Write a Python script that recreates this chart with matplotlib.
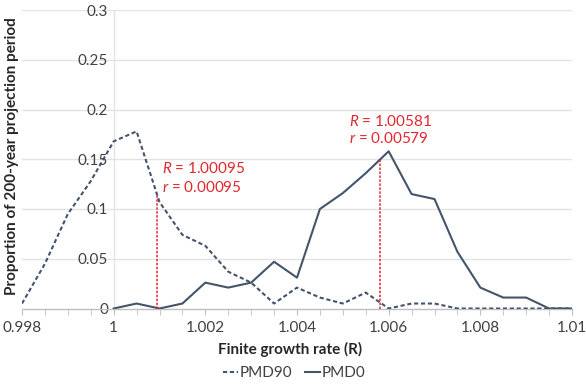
import numpy as np
import matplotlib
matplotlib.use("Agg")
import matplotlib.pyplot as plt
from matplotlib.ticker import MultipleLocator

plt.rcParams['font.family'] = ['Lato', 'DejaVu Sans']
plt.rcParams['mathtext.fontset'] = 'custom'
plt.rcParams['mathtext.it'] = 'Lato:italic'
plt.rcParams['mathtext.rm'] = 'Lato'

# Data
R_pmd90 = [0.998, 0.9985, 0.999, 0.9995, 1.0, 1.0005, 1.001, 1.0015, 1.002, 1.0025,
           1.003, 1.0035, 1.004, 1.0045, 1.005, 1.0055, 1.006, 1.0065, 1.007, 1.0075,
           1.008, 1.0085, 1.009, 1.0095, 1.01]
pmd90 = [0.005, 0.045, 0.095, 0.128, 0.168, 0.178, 0.107, 0.074, 0.063, 0.037,
         0.026, 0.005, 0.021, 0.011, 0.005, 0.016, 0.0, 0.005, 0.005, 0.0,
         0.0, 0.0, 0.0, 0.0, 0.0]
R_pmd0 = [1.0, 1.0005, 1.001, 1.0015, 1.002, 1.0025, 1.003, 1.0035, 1.004, 1.0045,
          1.005, 1.0055, 1.006, 1.0065, 1.007, 1.0075, 1.008, 1.0085, 1.009, 1.0095, 1.01]
pmd0 = [0.0, 0.005, 0.0, 0.005, 0.026, 0.021, 0.026, 0.047, 0.031, 0.100,
        0.116, 0.136, 0.158, 0.115, 0.110, 0.057, 0.021, 0.011, 0.011, 0.0, 0.0]

mean_R_pmd90 = 1.00095
mean_r_pmd90 = 0.00095
mean_R_pmd0 = 1.00581
mean_r_pmd0 = 0.00579

xticks = [0.998, 1.0, 1.002, 1.004, 1.006, 1.008, 1.01]
xticklabels = ['0.998', '1', '1.002', '1.004', '1.006', '1.008', '1.01']
yticks = [0, 0.05, 0.1, 0.15, 0.2, 0.25, 0.3]
yticklabels = ['0', '0.05', '0.1', '0.15', '0.2', '0.25', '0.3']

line_color = '#44546a'
red = '#e3262e'
grid_color = '#e3e3e3'
fs = 11

fig = plt.figure(figsize=(5.86, 3.85), dpi=100)
ax = fig.add_axes([22/586, 1-308.5/385, 550/586, (308.5-10)/385])

ax.set_xlim(0.998, 1.01)
ax.set_ylim(0, 0.3)

for y in yticks[1:]:
    ax.axhline(y, color=grid_color, lw=1.0, zorder=0)

ax.plot(R_pmd90, pmd90, color=line_color, lw=1.5, ls=(0, (2.0, 1.3)), label='PMD90', zorder=3)
ax.plot(R_pmd0, pmd0, color=line_color, lw=1.5, ls='-', label='PMD0', zorder=3)

# red mean lines
top1 = np.interp(mean_R_pmd90, R_pmd90, pmd90)
top2 = np.interp(mean_R_pmd0, R_pmd0, pmd0)
ax.plot([mean_R_pmd90, mean_R_pmd90], [0, top1], color=red, lw=1.1, ls=(0, (1.6, 1.0)), zorder=4)
ax.plot([mean_R_pmd0, mean_R_pmd0], [0, top2], color=red, lw=1.1, ls=(0, (1.6, 1.0)), zorder=4)

ax.text(1.00105, 0.1408, r'$\mathit{R}$' + ' = %.5f' % mean_R_pmd90, color=red, fontsize=fs, va='center', ha='left')
ax.text(1.00105, 0.1217, r'$\mathit{r}$' + ' = %.5f' % mean_r_pmd90, color=red, fontsize=fs, va='center', ha='left')
ax.text(1.00513, 0.1882, r'$\mathit{R}$' + ' = %.5f' % mean_R_pmd0, color=red, fontsize=fs, va='center', ha='left')
ax.text(1.00513, 0.1708, r'$\mathit{r}$' + ' = %.5f' % mean_r_pmd0, color=red, fontsize=fs, va='center', ha='left')

# spines
for s in ['top', 'right']:
    ax.spines[s].set_visible(False)
ax.spines['left'].set_position(('data', 1.0))
ax.spines['left'].set_color(grid_color)
ax.spines['left'].set_linewidth(1.0)
ax.spines['left'].set_zorder(0)
ax.spines['bottom'].set_color('#bfbfbf')
ax.spines['bottom'].set_linewidth(1.0)

ax.set_xticks(xticks)
ax.set_xticklabels(xticklabels)
ax.xaxis.set_minor_locator(MultipleLocator(0.0005))
ax.tick_params(axis='x', which='both', direction='out', length=4, color='#bfbfbf', labelsize=fs, labelcolor='#404040', pad=5)
ax.set_yticks(yticks)
ax.set_yticklabels(yticklabels)
ax.tick_params(axis='y', length=0, labelsize=fs, labelcolor='#404040', pad=4)

fig.text(290/586, 1-349/385, 'Finite growth rate (R)', ha='center', va='center', fontsize=fs, fontweight='bold', color='#262626')
fig.text(12/586, 1-156/385, 'Proportion of 200-year projection period', ha='center', va='center', rotation=90,
         fontsize=fs, fontweight='bold', color='#262626')

fig.legend(loc='center', bbox_to_anchor=(294/586, 1-373/385), ncol=2, frameon=False, fontsize=fs,
           handlelength=1.0, handletextpad=0.1, columnspacing=0.8, labelcolor='#404040')

fig.savefig('out.png', dpi=100)
